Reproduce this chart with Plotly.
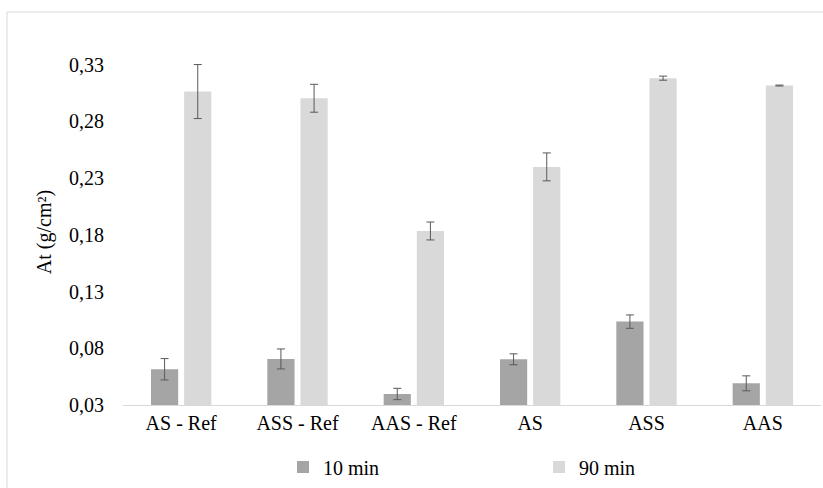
import plotly.graph_objects as go

# Samples and measured values (g/cm²)
categories = ["AS - Ref", "ASS - Ref", "AAS - Ref", "AS", "ASS", "AAS"]
at_10min = [0.0615, 0.0706, 0.0397, 0.0703, 0.1035, 0.0491]
err_10min = [0.0094, 0.0088, 0.0050, 0.0048, 0.0059, 0.0066]
at_90min = [0.3063, 0.3004, 0.1834, 0.2399, 0.3181, 0.3116]
err_90min = [0.0238, 0.0123, 0.0079, 0.0123, 0.0018, 0.0004]
tick_values = [0.03, 0.08, 0.13, 0.18, 0.23, 0.28, 0.33]
tick_labels = ["0,03", "0,08", "0,13", "0,18", "0,23", "0,28", "0,33"]

FONT = "Liberation Serif"
ERR_COLOR = "#595959"
serif = dict(family=FONT, size=20, color="#000000")

fig = go.Figure()
fig.add_trace(go.Bar(
    name="10 min", x=categories, y=at_10min,
    marker=dict(color="#A5A5A5", line=dict(width=0)),
    error_y=dict(type="data", array=err_10min, color=ERR_COLOR, thickness=1, width=4),
    legend="legend",
))
fig.add_trace(go.Bar(
    name="90 min", x=categories, y=at_90min,
    marker=dict(color="#D9D9D9", line=dict(width=0)),
    error_y=dict(type="data", array=err_90min, color=ERR_COLOR, thickness=1, width=4),
    legend="legend2",
))

fig.update_layout(
    width=823, height=488,
    margin=dict(l=123, r=2, t=59, b=83),
    paper_bgcolor="white", plot_bgcolor="white",
    barmode="group", bargap=0.43, bargroupgap=0.18,
    font=serif,
    showlegend=True,
    legend=dict(orientation="h", x=(283 - 123) / 698, xanchor="left",
                y=(405 - 467) / 346, yanchor="middle",
                font=serif, itemwidth=30, bgcolor="rgba(0,0,0,0)"),
    legend2=dict(orientation="h", x=(539 - 123) / 698, xanchor="left",
                 y=(405 - 467) / 346, yanchor="middle",
                 font=serif, itemwidth=30, bgcolor="rgba(0,0,0,0)"),
)

fig.update_xaxes(
    showline=True, linecolor="#D9D9D9", linewidth=1,
    showgrid=False, ticks="", tickfont=serif,
)
fig.update_yaxes(
    range=[0.03, 0.335], showline=False, showgrid=False, zeroline=False,
    tickvals=tick_values, ticktext=tick_labels, ticks="",
    tickfont=serif, ticklabelstandoff=18,
    title=dict(text="At (g/cm²)", font=serif, standoff=12),
)

# Outer chart frame
fig.add_shape(type="rect", xref="paper", yref="paper",
              x0=(7 - 123) / 698, x1=1.02, y0=-0.3, y1=(405 - 12) / 346,
              line=dict(color="#D9D9D9", width=1), fillcolor="rgba(0,0,0,0)",
              layer="below")

fig.write_html("out.html")
